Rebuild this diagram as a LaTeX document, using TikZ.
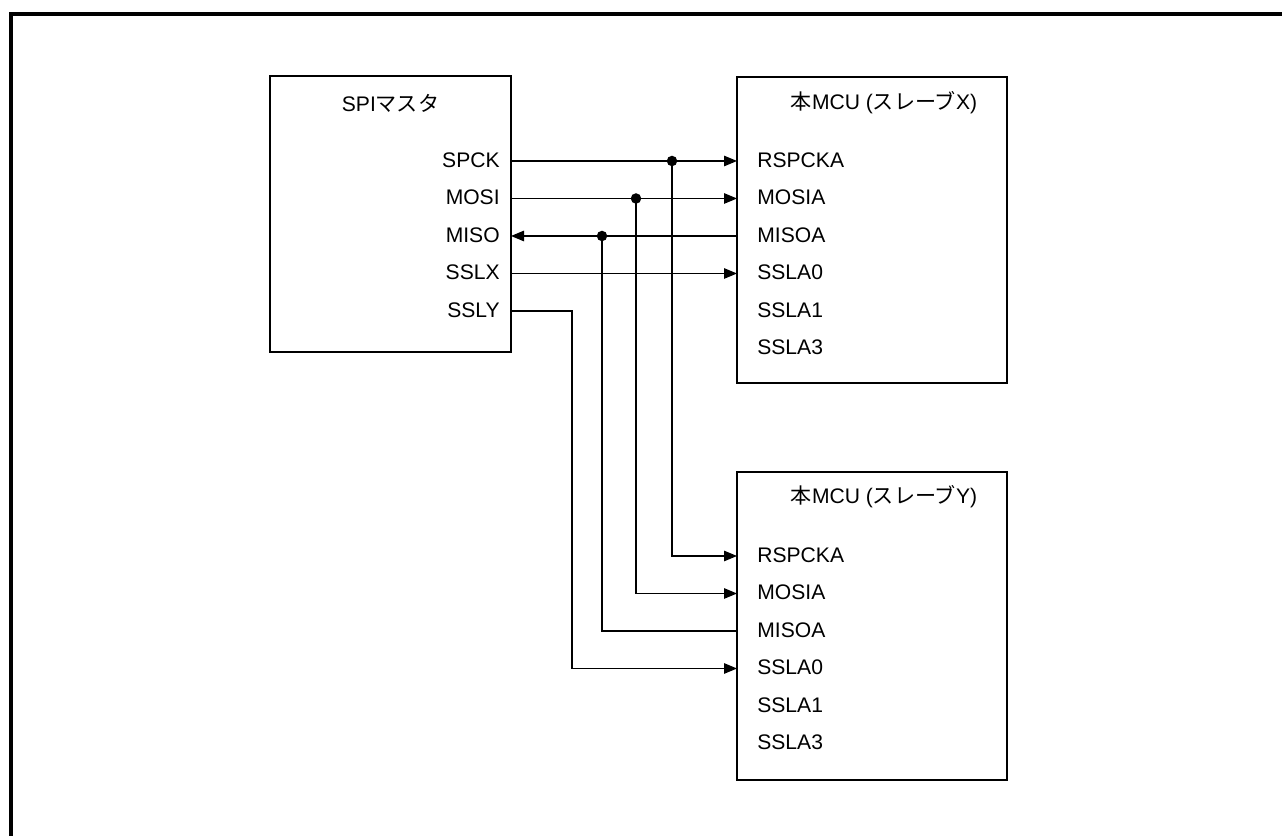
\documentclass[tikz,border=0pt]{standalone}
\usepackage{fontspec}
\setmainfont{Liberation Sans}
\newfontfamily\jpfont{Noto Sans CJK JP}
\usetikzlibrary{arrows.meta}

\tikzset{
  blk/.style={draw, line width=1.1pt, outer sep=0pt, inner sep=0pt},
  ttl/.style={font=\fontsize{12}{14}\selectfont},
  pinL/.style={anchor=east, inner sep=0pt, text height=1.4ex, text depth=0pt, font=\fontsize{12}{14}\selectfont},
  pinR/.style={anchor=west, inner sep=0pt, text height=1.4ex, text depth=0pt, font=\fontsize{12}{14}\selectfont},
  sig/.style={line width=0.7pt},
  arr/.style={-{Triangle[length=0.26cm, width=0.21cm]}},
  dot/.style={circle, fill, inner sep=0pt, minimum size=0.21cm},
}

\begin{document}
\begin{tikzpicture}
  \useasboundingbox (0,0) rectangle (25.64,16.72);
  % frame
  \draw[line width=1.8pt] (0.22,0) -- (0.22,16.44) -- (25.64,16.44);
  % blocks
  \node[blk, minimum width=4.82cm, minimum height=5.52cm] (master) at (7.81,12.44) {};
  \node[blk, minimum width=5.4cm, minimum height=6.12cm] (sx) at (17.44,12.12) {};
  \node[blk, minimum width=5.4cm, minimum height=6.16cm] (sy) at (17.44,4.2) {};
  \node[ttl] (mttl) at (7.81,14.66) {SPI{\jpfont マスタ}};
  \node[ttl] (xttl) at (17.68,14.66) {{\jpfont 本}MCU ({\jpfont スレーブ}X)};
  \node[ttl] (yttl) at (17.68,6.78) {{\jpfont 本}MCU ({\jpfont スレーブ}Y)};
  % pins
  \node[pinL] (m1) at (10.0,13.5) {SPCK};
  \node[pinL] (m2) at (10.0,12.75) {MOSI};
  \node[pinL] (m3) at (10.0,12.0) {MISO};
  \node[pinL] (m4) at (10.0,11.25) {SSLX};
  \node[pinL] (m5) at (10.0,10.5) {SSLY};
  \foreach \t [count=\i] in {RSPCKA,MOSIA,MISOA,SSLA0,SSLA1,SSLA3} {
    \node[pinR] (x\i) at (15.14,{14.25-0.75*\i}) {\t};
    \node[pinR] (y\i) at (15.14,{6.35-0.75*\i}) {\t};
  }
  % signals to slave X
  \draw[sig, arr] (m1 -| master.east) -- (x1 -| sx.west);
  \draw[sig, arr] (m2 -| master.east) -- (x2 -| sx.west);
  \draw[sig, arr] (x3 -| sx.west) -- (m3 -| master.east);
  \draw[sig, arr] (m4 -| master.east) -- (x4 -| sx.west);
  % branches to slave Y
  \node[dot] (j1) at (13.44,13.5) {};
  \node[dot] (j2) at (12.72,12.75) {};
  \node[dot] (j3) at (12.04,12.0) {};
  \draw[sig, arr] (j1.center) |- (y1 -| sy.west);
  \draw[sig, arr] (j2.center) |- (y2 -| sy.west);
  \draw[sig] (j3.center) |- (y3 -| sy.west);
  \coordinate (kY) at (11.44,0);
  \draw[sig, arr] (m5 -| master.east) -| (kY |- y4) -- (y4 -| sy.west);
\end{tikzpicture}
\end{document}
